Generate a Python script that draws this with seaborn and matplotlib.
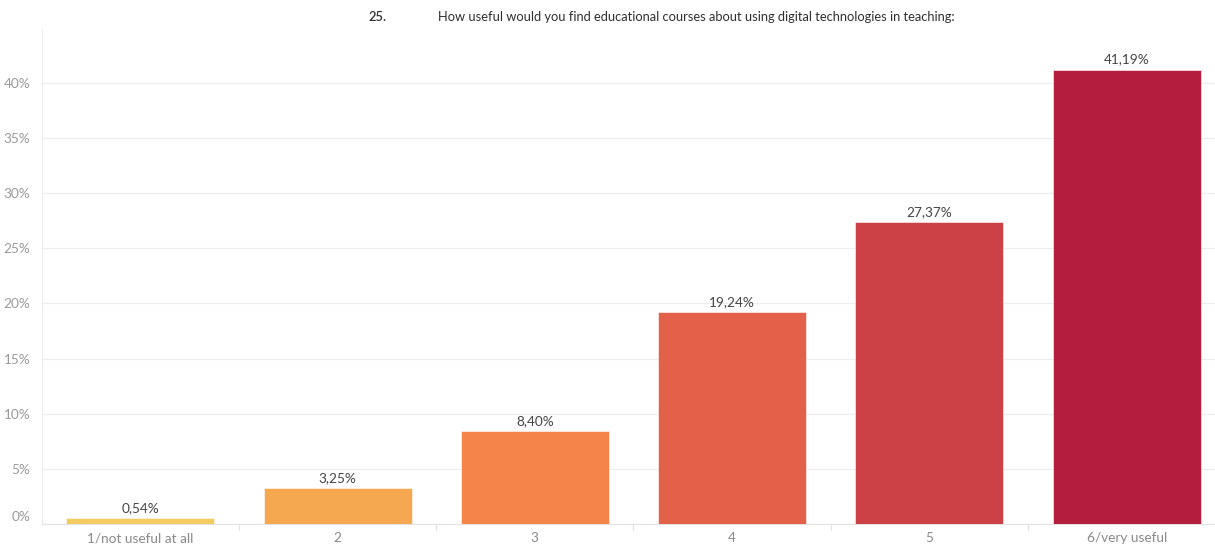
import matplotlib
matplotlib.use("Agg")
import matplotlib.pyplot as plt
import matplotlib.transforms as mtransforms
import seaborn as sns
import pandas as pd

categories = ["1/not useful at all", "2", "3", "4", "5", "6/very useful"]
shares = [0.54, 3.25, 8.40, 19.24, 27.37, 41.19]
bar_colors = ["#F4CB5E", "#F6A851", "#F4844A", "#E36149", "#CC4146", "#B41D3E"]
y_ticks = [0, 5, 10, 15, 20, 25, 30, 35, 40]

sns.set_style("white")
plt.rcParams["font.family"] = ["Lato", "DejaVu Sans"]

df = pd.DataFrame({"category": categories, "share": shares})

fig = plt.figure(figsize=(12.15, 5.48), dpi=100)
ax = fig.add_axes([41.5 / 1215, 1 - 524 / 548, 1184 / 1215, 494 / 548])

sns.barplot(data=df, x="category", y="share", hue="category",
            palette=bar_colors, order=categories, hue_order=categories,
            width=0.75, legend=False, saturation=1, ax=ax, zorder=3,
            edgecolor="#FFFFFF", linewidth=0.4)

ax.set_xlim(-0.5, 5.5)
ax.set_ylim(0, 44.8)
ax.set_yticks(y_ticks)
ax.set_yticklabels([f"{t}%" for t in y_ticks])
ax.grid(axis="y", color="#EEEEEE", linewidth=0.9, zorder=0)
ax.set_xlabel("")
ax.set_ylabel("")

for s in ["top", "right"]:
    ax.spines[s].set_visible(False)
ax.spines["left"].set_color("#EBEBEB")
ax.spines["bottom"].set_color("#E3E3E3")

ax.tick_params(axis="y", length=0, labelsize=9.8, labelcolor="#9A9A9A", pad=8)
ax.tick_params(axis="x", length=0, labelsize=9.8, labelcolor="#8A8A8A", pad=6)

# lift the baseline label so it sits above the axis line
zero_label = ax.get_yticklabels()[0]
zero_label.set_transform(zero_label.get_transform() +
                         mtransforms.ScaledTranslation(0, 8 / 100, fig.dpi_scale_trans))

# small separators between categories below the baseline
for i in range(len(categories) - 1):
    ax.plot([i + 0.5, i + 0.5], [0, -0.5], color="#E3E3E3", lw=0.9,
            clip_on=False, transform=ax.transData)

for container in ax.containers:
    ax.bar_label(container, labels=[f"{v:.2f}%".replace(".", ",") for v in container.datavalues],
                 padding=3, fontsize=9.8, color="#444444")

fig.text(368 / 1215, 1 - 17 / 548, "25.", fontsize=9.3, color="#2E2E2E",
         ha="left", va="center", fontweight="semibold")
fig.text(438 / 1215, 1 - 17 / 548,
         "How useful would you find educational courses about using digital technologies in teaching:",
         fontsize=9.3, color="#2E2E2E", ha="left", va="center")

fig.savefig("out.png", dpi=100)
